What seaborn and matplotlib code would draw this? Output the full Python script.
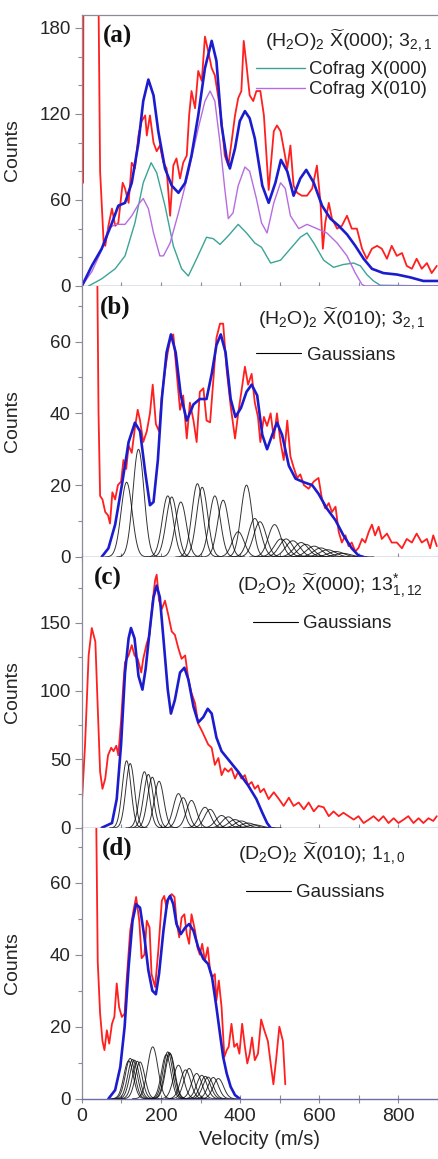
import numpy as np
import pandas as pd
import seaborn as sns
import matplotlib
matplotlib.use("Agg")
import matplotlib.pyplot as plt
from matplotlib.ticker import MultipleLocator
from matplotlib.lines import Line2D

# ---------------- data ----------------
# Panel (a)
a_red_v = [3, 4, 40, 46, 55, 59, 67, 76, 84, 92, 103, 109, 118, 126, 134, 143, 151, 160, 164, 172, 181, 189,
           197, 206, 214, 223, 231, 239, 248, 256, 265, 271, 277, 286, 294, 303, 311, 319, 328, 336, 345, 353,
           361, 370, 378, 387, 395, 403, 409, 416, 424, 433, 441, 451, 460, 472, 485, 493, 502, 510, 519, 527,
           535, 544, 556, 569, 582, 594, 603, 609, 615, 624, 632, 645, 657, 670, 682, 695, 708, 720, 733, 746,
           758, 771, 783, 796, 809, 821, 834, 846, 859, 872, 884, 897]
a_red_c = [72, 260, 260, 80, 30, 28, 42, 54, 42, 44, 72, 68, 58, 86, 82, 105, 115, 119, 105, 119, 100, 94,
           98, 86, 82, 49, 84, 89, 75, 86, 91, 119, 136, 124, 150, 143, 174, 164, 152, 147, 131, 115,
           91, 84, 100, 119, 131, 136, 171, 154, 133, 129, 136, 136, 119, 67, 108, 112, 108, 96, 82, 98,
           70, 65, 63, 63, 68, 84, 58, 26, 44, 58, 47, 40, 42, 49, 40, 40, 26, 19, 26, 28,
           26, 19, 28, 21, 23, 14, 12, 19, 12, 16, 9, 14]
a_fit_v = [0, 25, 50, 76, 92, 109, 126, 143, 155, 168, 181, 193, 210, 227, 244, 261, 277, 294, 311, 328, 340,
           353, 366, 374, 387, 399, 412, 424, 437, 456, 472, 489, 503, 519, 535, 552, 567, 586, 607, 628, 649,
           670, 691, 712, 733, 762, 796, 830, 863, 900]
a_fit_c = [0, 14, 26, 44, 56, 58, 72, 100, 129, 144, 133, 108, 82, 70, 65, 72, 91, 119, 152, 171, 157,
           112, 89, 82, 96, 115, 122, 117, 103, 70, 58, 72, 88, 80, 63, 75, 81, 72, 56, 47, 42,
           36, 28, 19, 12, 9, 8, 6, 3.5, 3.5]
a_x000_v = [17, 50, 84, 109, 134, 155, 175, 189, 210, 231, 252, 269, 290, 315, 332, 349, 370, 395, 416, 437,
            454, 477, 502, 527, 552, 569, 586, 611, 636, 661, 687, 704, 720, 737, 754, 900]
a_x000_c = [0, 5, 12, 21, 44, 72, 86, 79, 56, 28, 12, 7, 19, 34, 33, 29, 35, 43, 37, 30,
            27, 16, 18, 26, 34, 37, 30, 18, 13, 15, 16, 14, 8, 3.5, 0.5, 0]
a_x010_v = [0, 25, 50, 67, 84, 109, 126, 143, 155, 168, 181, 197, 206, 223, 244, 269, 294, 311, 324, 336,
            349, 361, 370, 382, 395, 412, 424, 441, 454, 468, 485, 502, 514, 527, 548, 569, 594, 619, 645,
            670, 691, 708, 716, 900]
a_x010_c = [0, 10, 25, 40, 43, 43, 49, 57, 61, 54, 37, 21, 21, 30, 51, 79, 110, 129, 136, 129,
            100, 68, 47, 51, 70, 83, 80, 61, 44, 37, 58, 72, 68, 49, 40, 43, 40, 37, 30,
            21, 9, 1, 0, 0]

# Panel (b)
b_red_v = [38, 42, 46, 52, 59, 66, 71, 77, 84, 91, 99, 105, 112, 118, 126, 134, 141, 147, 155, 164, 172, 179,
           187, 195, 202, 210, 217, 224, 231, 239, 248, 256, 265, 273, 282, 290, 298, 307, 315, 324, 332, 340,
           349, 357, 366, 376, 387, 395, 403, 412, 420, 429, 437, 445, 451, 460, 468, 477, 485, 493, 502, 510,
           519, 527, 535, 544, 552, 561, 573, 586, 598, 607, 615, 624, 632, 641, 649, 657, 666, 674, 682, 691,
           699, 708, 716, 725, 733, 741, 750, 758, 771, 783, 796, 809, 821, 834, 846, 859, 872, 880, 888, 897]
b_red_c = [90, 40, 17, 16, 12.5, 11.6, 9.3, 18, 16, 20, 21, 27, 24.5, 31, 29, 36, 41, 38, 32, 35, 40, 48,
           37, 35, 45, 52, 57, 61, 62, 52, 41, 45, 33, 43, 38, 32, 46, 47, 38, 37.5, 49, 61,
           65, 65, 52, 42, 33, 40, 46, 53, 48, 51, 43, 39, 32, 39, 36.5, 40, 33, 40, 32, 27,
           38, 28, 25, 22, 23, 20, 19, 21, 22, 16, 13.5, 15, 12.5, 14, 7, 4, 6, 3, 4, 1.5,
           2.5, 5, 4, 7, 9, 6, 8.4, 5, 6.5, 4, 4, 2.4, 5, 4, 6.5, 4, 5, 2.4, 6, 3]
b_fit_v = [50, 67, 84, 101, 118, 134, 147, 160, 172, 181, 192, 202, 214, 225, 237, 250, 265, 282, 298, 315, 328,
           340, 351, 363, 376, 388, 402, 416, 429, 443, 456, 468, 481, 493, 506, 523, 540, 561, 582, 598, 619,
           641, 661, 682, 699, 712]
b_fit_c = [0, 2.4, 9, 20, 32, 37.4, 35, 23.6, 14.4, 15.3, 27, 44, 57, 62, 57, 45, 38, 42.5, 44, 44, 51,
           59, 62, 57, 44, 39, 41.5, 46, 48, 45, 34, 30, 34, 37.4, 34, 25.4, 21.8, 20.8, 20, 17.6, 13.5,
           10.2, 6, 2.4, 0.4, 0]
b_g_center = [113, 143, 217, 227, 250, 292, 304, 336, 357, 395, 416, 437, 450, 487, 503, 516, 533, 554, 566,
              587, 604, 621, 642, 659]
b_g_amp = [20.8, 30, 17, 16.7, 15.3, 20.4, 19.4, 17, 15.8, 7, 20, 10.7, 9.8, 9, 5, 5, 4.5, 4, 3.5, 3, 2.5, 2,
           1.5, 1]
b_g_sigma = [14, 14, 14, 14, 14, 14, 14, 14, 14, 15, 14, 16, 16, 16, 17, 17, 18, 18, 18, 19, 19, 20, 20, 20]

# Panel (c)
c_red_v = [0, 8, 17, 25, 34, 40, 46, 52, 59, 66, 74, 80, 87, 92, 99, 105, 109, 118, 126, 133, 141, 150,
           155, 164, 171, 178, 185, 189, 195, 202, 210, 218, 227, 235, 244, 252, 261, 269, 277, 286, 294, 303,
           311, 319, 328, 336, 345, 353, 361, 370, 378, 387, 395, 403, 412, 420, 429, 437, 445, 451, 460, 472,
           485, 498, 510, 523, 535, 548, 561, 573, 586, 598, 611, 624, 636, 649, 661, 674, 687, 699, 712, 725,
           737, 750, 762, 775, 788, 800, 813, 825, 838, 851, 863, 876, 888, 897]
c_red_c = [18.5, 61, 126, 146, 136, 88, 41, 28.5, 36, 53, 58.5, 56, 60, 53, 78.5, 106, 121, 126, 133.5, 126,
           123.5, 113.5, 123.5, 135, 141, 163.5, 181, 185, 166, 160, 166, 156, 143.5, 141, 131, 123.5, 126,
           108.5, 98.5, 91, 76, 71, 66, 61, 58.5, 46, 51, 38.5, 43.5, 41, 43.5, 36, 41, 36, 38.5, 31, 33.5,
           28.5, 31, 26, 28.5, 21, 26, 21, 16, 22, 16, 18.5, 13.5, 18.5, 12, 16, 15, 8.5, 12, 8.5, 11, 8.5,
           6, 8.5, 3.5, 6, 8.5, 5, 8.5, 3.5, 7, 3.5, 6, 8.5, 3.5, 7, 3.5, 7, 5, 8.5]
c_fit_v = [50, 76, 88, 99, 109, 118, 124, 133, 143, 153, 161, 172, 181, 189, 197, 206, 217, 225, 235, 248, 259,
           269, 282, 294, 307, 318, 328, 340, 353, 374, 395, 420, 441, 456, 468, 477]
c_fit_c = [0, 3.5, 21, 61, 113.5, 138.5, 146, 138.5, 111, 101, 116, 146, 168.5, 177, 168.5, 138.5, 101, 83.5,
           93.5, 113.5, 117, 108.5, 88.5, 77, 81, 87, 83.5, 66, 56, 48.5, 41, 31, 21, 11, 3.5, 0]
c_g_center = [113, 122, 158, 168, 178, 195, 244, 256, 277, 311, 324, 353, 370, 387, 403, 420, 437]
c_g_amp = [49, 47, 41, 39, 37, 34, 25, 22, 20, 15, 13.5, 9, 8, 6, 5, 3.5, 2.2]
c_g_sigma = [11, 11, 12, 12, 12, 12, 13, 13, 13, 14, 14, 15, 15, 16, 16, 17, 17]

# Panel (d)
d_red_v = [35, 40, 46, 52, 57, 63, 69, 76, 82, 88, 94, 101, 108, 113, 122, 130, 137, 145, 151, 158, 164, 171,
           176, 185, 193, 202, 208, 214, 220, 227, 234, 239, 246, 252, 259, 265, 271, 277, 286, 292, 298, 304,
           311, 318, 324, 329, 336, 340, 346, 353, 360, 366, 371, 378, 385, 392, 398, 405, 412, 418, 424, 430,
           437, 445, 453, 461, 470, 478, 484, 491, 499, 508, 514]
d_red_c = [90, 38, 23.6, 16, 13.5, 19, 15.3, 20.8, 22.7, 32, 25.4, 22.7, 23.6, 32.8, 46.6, 52, 56, 49.4, 39,
           40, 49.4, 47.5, 34.6, 31, 41, 55, 56.3, 53, 56, 56.8, 56, 49.4, 44.8, 50.3, 51.2, 45.7, 43, 51.2,
           46.6, 42, 40, 43, 38.3, 42, 35.6, 33.7, 34.6, 27.3, 32.8, 25.4, 11.6, 13.5, 14.4, 20.8, 14.4, 15.3,
           12.5, 20.8, 14.4, 9.8, 12.5, 17, 10.7, 12.5, 22, 19, 16, 9, 4, 11, 20, 16, 4]
d_fit_v = [67, 84, 97, 108, 118, 128, 137, 147, 158, 168, 178, 187, 195, 206, 216, 223, 231, 239, 250, 261, 271,
           282, 294, 307, 319, 329, 340, 349, 357, 366, 376, 387, 399]
d_fit_c = [0, 2.4, 8.8, 20, 36.5, 49.4, 54, 53, 44.8, 35.6, 30, 29, 34.7, 46.6, 55, 56.3, 54, 48.5, 45.7, 47.5,
           48.5, 46.6, 42, 38.8, 37.4, 33.7, 25.4, 18, 11.6, 7, 3.3, 1, 0]
d_g_center = [118, 122, 128, 133, 140, 147, 179, 213, 217, 221, 223, 244, 262, 271, 290, 303, 312, 319, 332, 345]
d_g_amp = [10.5, 11.2, 10.9, 10.7, 10.4, 10.2, 14.4, 12.2, 13, 12.8, 12.5, 9.3, 8, 8.4, 7, 6.5, 6.2, 6, 5.9, 5.6]
d_g_sigma = [12, 12, 12, 12, 12, 12, 13, 12, 12, 12, 12, 13, 13, 13, 13, 13, 13, 13, 13, 13]

titles = [r"(H$_2$O)$_2$ $\widetilde{\mathrm{X}}$(000); 3$_{2,1}$",
          r"(H$_2$O)$_2$ $\widetilde{\mathrm{X}}$(010); 3$_{2,1}$",
          r"(D$_2$O)$_2$ $\widetilde{\mathrm{X}}$(000); 13$^{*}_{1,12}$",
          r"(D$_2$O)$_2$ $\widetilde{\mathrm{X}}$(010); 1$_{1,0}$"]
panel_tags = ["(a)", "(b)", "(c)", "(d)"]
x_ticks = [0, 200, 400, 600, 800]

# ---------------- styling ----------------
sns.set_theme(style="ticks")
plt.rcParams["font.family"] = ["Liberation Sans", "DejaVu Sans"]
plt.rcParams["mathtext.fontset"] = "custom"
plt.rcParams["mathtext.rm"] = "Liberation Sans"
plt.rcParams["mathtext.it"] = "Liberation Sans:italic"
plt.rcParams["mathtext.bf"] = "Liberation Sans:bold"

RED = "#ff1f1f"
BLUE = "#1c1ccf"
TEAL = "#3aa496"
PURPLE = "#b66ce0"
SPINE = "#8a8a9a"
BOTTOM = "#6e6ea6"

fig, axes = plt.subplots(4, 1, figsize=(4.38, 11.59), dpi=100, sharex=True,
                         gridspec_kw=dict(hspace=0))
fig.subplots_adjust(left=0.187, right=1.0, top=0.987, bottom=0.052)

vgrid = np.arange(0, 901, 1.0)


def line(ax, x, y, color, lw, **kw):
    sns.lineplot(x=x, y=y, ax=ax, color=color, lw=lw, estimator=None, sort=False, **kw)


def draw_gaussians(ax, centers, amps, sigmas):
    for c, a, s in zip(centers, amps, sigmas):
        m = (vgrid > c - 4 * s) & (vgrid < c + 4 * s)
        vv = vgrid[m]
        yy = a * np.exp(-(vv - c) ** 2 / (2 * s ** 2))
        line(ax, vv, yy, "black", 0.7, alpha=0.8)


# (a)
ax = axes[0]
line(ax, a_red_v, a_red_c, RED, 1.3)
line(ax, a_x000_v, a_x000_c, TEAL, 1.0, label="Cofrag X(000)")
line(ax, a_x010_v, a_x010_c, PURPLE, 1.0, label="Cofrag X(010)")
line(ax, a_fit_v, a_fit_c, BLUE, 1.9)
ax.set_ylim(0, 189)
ax.yaxis.set_major_locator(MultipleLocator(60))
ax.yaxis.set_minor_locator(MultipleLocator(20))

# (b)
ax = axes[1]
line(ax, b_red_v, b_red_c, RED, 1.3)
draw_gaussians(ax, b_g_center, b_g_amp, b_g_sigma)
line(ax, b_fit_v, b_fit_c, BLUE, 1.9)
ax.set_ylim(0, 75.5)
ax.yaxis.set_major_locator(MultipleLocator(20))
ax.yaxis.set_minor_locator(MultipleLocator(10))

# (c)
ax = axes[2]
line(ax, c_red_v, c_red_c, RED, 1.3)
draw_gaussians(ax, c_g_center, c_g_amp, c_g_sigma)
line(ax, c_fit_v, c_fit_c, BLUE, 1.9)
ax.set_ylim(0, 198)
ax.yaxis.set_major_locator(MultipleLocator(50))
ax.yaxis.set_minor_locator(MultipleLocator(25))

# (d)
ax = axes[3]
line(ax, d_red_v, d_red_c, RED, 1.3)
draw_gaussians(ax, d_g_center, d_g_amp, d_g_sigma)
line(ax, d_fit_v, d_fit_c, BLUE, 1.9)
ax.set_ylim(0, 75.2)
ax.yaxis.set_major_locator(MultipleLocator(20))
ax.yaxis.set_minor_locator(MultipleLocator(10))

title_pos = [(0.75, 0.905), (0.728, 0.88), (0.697, 0.892), (0.674, 0.904)]
tag_pos = [(0.058, 0.922), (0.05, 0.923), (0.034, 0.92), (0.056, 0.923)]
leg_pos = [(0.49, 0.761), (0.49, 0.745), (0.48, 0.754), (0.46, 0.761)]

for i, ax in enumerate(axes):
    ax.set_xlim(0, 900)
    ax.xaxis.set_major_locator(MultipleLocator(200))
    ax.xaxis.set_minor_locator(MultipleLocator(100))
    ax.tick_params(axis="x", which="both", direction="inout", length=6, width=0.8,
                   color=SPINE, labelsize=14)
    ax.tick_params(axis="y", which="major", direction="out", length=5, width=0.8,
                   color=SPINE, labelsize=13.5, pad=3)
    ax.tick_params(axis="y", which="minor", direction="out", length=3, width=0.8, color=SPINE)
    for s in ["left", "top"]:
        ax.spines[s].set_color(SPINE)
        ax.spines[s].set_linewidth(0.9)
    ax.spines["bottom"].set_color(BOTTOM)
    ax.spines["bottom"].set_linewidth(1.0)
    ax.spines["right"].set_visible(False)
    if i > 0:
        ax.spines["top"].set_visible(False)
    ax.set_ylabel("Counts", fontsize=14)
    ax.yaxis.set_label_coords(-0.17, 0.5)
    ax.text(title_pos[i][0], title_pos[i][1], titles[i], transform=ax.transAxes,
            ha="center", va="center", fontsize=14, color="#222222")
    ax.text(tag_pos[i][0], tag_pos[i][1], panel_tags[i], transform=ax.transAxes,
            ha="left", va="center", fontsize=18, fontweight="bold",
            family=["Liberation Serif", "DejaVu Serif"], color="#111111")
    if i == 0:
        leg = ax.legend(loc="center left", bbox_to_anchor=leg_pos[i], frameon=False,
                        fontsize=13.5, handlelength=2.6, handletextpad=0.2,
                        labelspacing=0.15, borderpad=0, borderaxespad=0)
    else:
        h = [Line2D([0], [0], color="black", lw=0.8)]
        leg = ax.legend(h, ["Gaussians"], loc="center left", bbox_to_anchor=leg_pos[i],
                        frameon=False, fontsize=13.5, handlelength=2.4, handletextpad=0.3,
                        borderpad=0, borderaxespad=0)
    for t in leg.get_texts():
        t.set_color("#222222")

axes[3].set_xticks(x_ticks)
axes[3].set_xlabel("Velocity (m/s)", fontsize=14.5)

fig.savefig("out.png", dpi=100)
